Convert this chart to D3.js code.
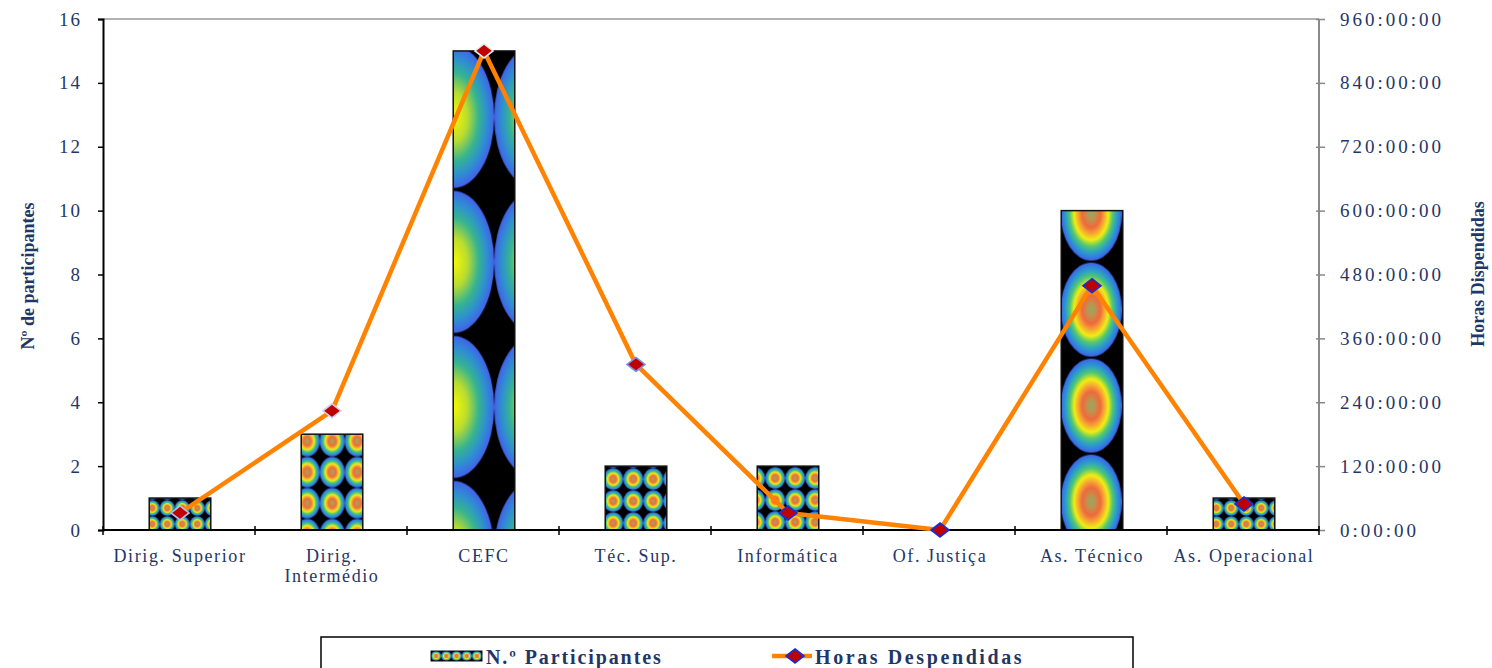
<!DOCTYPE html>
<html>
<head>
<meta charset="utf-8">
<script src="https://cdn.jsdelivr.net/npm/d3@7"></script>
<style>
  html, body { margin: 0; padding: 0; background: #fff; }
  svg { display: block; }
  text { font-family: "Liberation Serif", "Times New Roman", serif; fill: #1f3768; }
</style>
</head>
<body>
<svg id="chart" width="1492" height="668"></svg>
<script>
// ---- data ----
const categories = ["Dirig. Superior", "Dirig.\nIntermédio", "CEFC", "Téc. Sup.", "Informática", "Of. Justiça", "As. Técnico", "As. Operacional"];
const participantes = [1, 3, 15, 2, 2, 0, 10, 1];
const horasHoras = [32, 224, 900, 311, 32, 0, 459, 49];
const leftTicks = [0, 2, 4, 6, 8, 10, 12, 14, 16];
const rightTicks = [0, 120, 240, 360, 480, 600, 720, 840, 960];
const rightTickLabels = ["0:00:00", "120:00:00", "240:00:00", "360:00:00", "480:00:00", "600:00:00", "720:00:00", "840:00:00", "960:00:00"];
const leftTitle = "Nº de participantes";
const rightTitle = "Horas Dispendidas";
const legendLabels = ["N.º Participantes", "Horas Despendidas"];

// ---- layout / style ----
const svg = d3.select("#chart");
const L = 103, R = 1319, T = 19, B = 530;
const navy = "#1b3366";

const x = d3.scaleBand().domain(categories).range([L, R]).padding(0);
const yL = d3.scaleLinear().domain([0, 16]).range([B, T]);
const yR = d3.scaleLinear().domain([0, 960]).range([B, T]);
const barW = x.bandwidth() * 0.405;
const cx = c => x(c) + x.bandwidth() / 2 + 1;

// texture tile settings per bar (style)
const tex = [
  { tw: 15, th: 16, ox: 3, oy: 10, g: "gA" },
  { tw: 25, th: 31, ox: 6, oy: 7, g: "gA" },
  { tw: 82, th: 145, ox: 0, oy: 66, g: "gB" },
  { tw: 20, th: 22, ox: 8, oy: 13, g: "gA" },
  { tw: 20, th: 22, ox: -2, oy: 12, g: "gA" },
  { tw: 20, th: 22, ox: 0, oy: 0, g: "gA" },
  { tw: 61, th: 96, ox: 30, oy: 3, g: "gA" },
  { tw: 15, th: 16, ox: 3, oy: 10, g: "gA" }
];
const markerStroke = ["#b0bcf0", "#d0d0e8", "#e6e6f0", "#7a90f0", "#1030e0", "#1030e0", "#1030e0", "#1030e0"];

const defs = svg.append("defs");
const gA = defs.append("radialGradient").attr("id", "gA");
[[0, "#8cab6a"], [0.14, "#c4904c"], [0.3, "#f0683c"], [0.45, "#f5b030"], [0.56, "#f2ee10"], [0.7, "#52c870"], [0.84, "#2a9ec8"], [1, "#3c62ee"]]
  .forEach(([o, c]) => gA.append("stop").attr("offset", o).attr("stop-color", c));
const gB = defs.append("radialGradient").attr("id", "gB");
[[0, "#fafa00"], [0.35, "#b8dc30"], [0.62, "#36b490"], [0.82, "#2e90d0"], [1, "#4262ea"]]
  .forEach(([o, c]) => gB.append("stop").attr("offset", o).attr("stop-color", c));

function makePattern(id, px, py, tw, th, grad) {
  const p = defs.append("pattern").attr("id", id).attr("patternUnits", "userSpaceOnUse")
    .attr("x", px).attr("y", py).attr("width", tw).attr("height", th);
  p.append("rect").attr("width", tw).attr("height", th).attr("fill", "#000");
  p.append("ellipse").attr("cx", tw / 2).attr("cy", th / 2).attr("rx", tw / 2).attr("ry", th * 0.49)
    .attr("fill", `url(#${grad})`);
}

categories.forEach((c, i) => {
  const bx = cx(c) - barW / 2, by = yL(participantes[i]);
  const t = tex[i];
  makePattern("pat" + i, bx + t.ox - t.tw / 2, by + t.oy - t.th / 2, t.tw, t.th, t.g);
});

// ---- bars ----
svg.append("g").selectAll("rect").data(categories).join("rect")
  .filter((c, i) => participantes[i] > 0)
  .attr("x", c => cx(c) - barW / 2)
  .attr("y", (c) => yL(participantes[categories.indexOf(c)]))
  .attr("width", barW)
  .attr("height", c => B - yL(participantes[categories.indexOf(c)]))
  .attr("fill", c => `url(#pat${categories.indexOf(c)})`)
  .attr("stroke", "#111").attr("stroke-width", 1.5);

// ---- frame ----
svg.append("line").attr("x1", L).attr("x2", R).attr("y1", T).attr("y2", T).attr("stroke", "#999").attr("stroke-width", 1.5);
svg.append("line").attr("x1", R).attr("x2", R).attr("y1", T).attr("y2", B).attr("stroke", "#8a8a8a").attr("stroke-width", 2);

// left axis
const axL = svg.append("g").attr("transform", `translate(${L},0)`)
  .call(d3.axisLeft(yL).tickValues(leftTicks).tickSize(5).tickPadding(16).tickFormat(d3.format("d")));
axL.select(".domain").attr("stroke", "#000").attr("stroke-width", 2);
axL.selectAll(".tick line").attr("stroke", "#000").attr("stroke-width", 1.5);
axL.selectAll(".tick text").attr("font-size", 19).attr("letter-spacing", "2px").attr("fill", navy)
  .style("font-family", "Liberation Serif");

// right axis
const axR = svg.append("g").attr("transform", `translate(${R},0)`)
  .call(d3.axisRight(yR).tickValues(rightTicks).tickSize(6).tickPadding(15).tickFormat((d, i) => rightTickLabels[i]));
axR.select(".domain").remove();
axR.selectAll(".tick line").attr("x1", -3).attr("stroke", "#888").attr("stroke-width", 1.5);
axR.selectAll(".tick text").attr("font-size", 19).attr("letter-spacing", "3px").attr("fill", navy)
  .style("font-family", "Liberation Serif");

// bottom axis
const bounds = categories.map(c => x(c)).concat([R]);
svg.append("line").attr("x1", L).attr("x2", R).attr("y1", B).attr("y2", B).attr("stroke", "#000").attr("stroke-width", 2);
svg.append("g").selectAll("line").data(bounds).join("line")
  .attr("x1", d => d).attr("x2", d => d).attr("y1", B - 4).attr("y2", B + 5)
  .attr("stroke", "#000").attr("stroke-width", 1.5);

// category labels
const cl = svg.append("g").selectAll("text").data(categories).join("text")
  .attr("text-anchor", "middle").attr("font-size", 18).attr("letter-spacing", "1.6px").attr("fill", navy);
cl.each(function (c) {
  const lines = c.split("\n");
  lines.forEach((ln, k) => {
    d3.select(this).append("tspan").attr("x", cx(c)).attr("y", 562 + k * 20).text(ln);
  });
});

// ---- line ----
const lineGen = d3.line().x((d, i) => cx(categories[i])).y(d => yR(d));
svg.append("path").datum(horasHoras).attr("d", lineGen)
  .attr("fill", "none").attr("stroke", "#ff8200").attr("stroke-width", 4.5).attr("stroke-linejoin", "round");

const diamond = "M0,-7L9,0L0,7L-9,0Z";
svg.append("g").selectAll("path").data(horasHoras).join("path")
  .attr("d", diamond)
  .attr("transform", (d, i) => `translate(${cx(categories[i])},${yR(d)})`)
  .attr("fill", "#c00000").attr("stroke", (d, i) => markerStroke[i]).attr("stroke-width", 1.6);

// ---- axis titles ----
svg.append("text").attr("transform", `translate(34,276) rotate(-90)`).attr("text-anchor", "middle")
  .attr("font-size", 18).attr("font-weight", "bold").attr("fill", navy).text(leftTitle);
svg.append("text").attr("transform", `translate(1484,274) rotate(-90)`).attr("text-anchor", "middle")
  .attr("font-size", 18).attr("font-weight", "bold").attr("fill", navy).text(rightTitle);

// ---- legend ----
const lg = svg.append("g");
lg.append("rect").attr("x", 321).attr("y", 637).attr("width", 812).attr("height", 45)
  .attr("fill", "#fff").attr("stroke", "#000").attr("stroke-width", 1.5);
makePattern("patLeg", 431, 651, 10.2, 10, "gA");
lg.append("rect").attr("x", 431).attr("y", 651).attr("width", 51).attr("height", 10)
  .attr("fill", "url(#patLeg)").attr("stroke", "#111").attr("stroke-width", 1);
lg.append("text").attr("x", 486).attr("y", 664).attr("font-size", 20).attr("font-weight", "bold")
  .attr("letter-spacing", "1.9px").attr("fill", navy).text(legendLabels[0]);
lg.append("line").attr("x1", 772).attr("x2", 812).attr("y1", 656).attr("y2", 656)
  .attr("stroke", "#ff8200").attr("stroke-width", 4.5);
lg.append("path").attr("d", diamond).attr("transform", "translate(795,656)")
  .attr("fill", "#c00000").attr("stroke", "#1030e0").attr("stroke-width", 1.6);
lg.append("text").attr("x", 815).attr("y", 664).attr("font-size", 20).attr("font-weight", "bold")
  .attr("letter-spacing", "2.6px").attr("fill", navy).text(legendLabels[1]);
</script>
</body>
</html>
